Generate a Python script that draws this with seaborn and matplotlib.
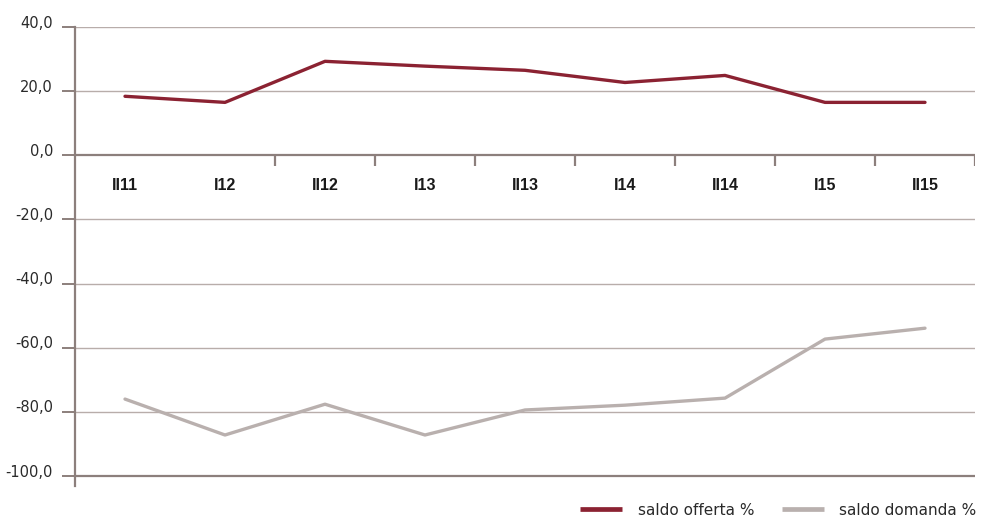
import matplotlib
matplotlib.use("Agg")
import matplotlib.pyplot as plt
from matplotlib.lines import Line2D
from matplotlib.transforms import ScaledTranslation
import seaborn as sns
import pandas as pd

periods = ["II11", "I12", "II12", "I13", "II13", "I14", "II14", "I15", "II15"]
saldo_offerta = [18.4, 16.5, 29.3, 27.8, 26.5, 22.7, 24.9, 16.5, 16.5]
saldo_domanda = [-76.0, -87.2, -77.6, -87.2, -79.4, -77.9, -75.7, -57.3, -53.9]
y_ticks = [40, 20, 0, -20, -40, -60, -80, -100]

series_names = ["saldo offerta %", "saldo domanda %"]
colors = {"saldo offerta %": "#8b2232", "saldo domanda %": "#b9b0ae"}
axis_color = "#8c7f7c"
grid_color = "#b8adaa"

df = pd.DataFrame({
    "pos": list(range(len(periods))) * 2,
    "valore": saldo_offerta + saldo_domanda,
    "serie": [series_names[0]] * len(periods) + [series_names[1]] * len(periods),
})

sns.set_style("white")
plt.rcParams["font.family"] = ["DejaVu Sans"]

fig = plt.figure(figsize=(9.82, 5.16), dpi=100)
ax = fig.add_axes([75 / 982, 1 - 486 / 516, 900 / 982, 459 / 516])

ax.set_xlim(-0.5, len(periods) - 0.5)
ax.set_ylim(-103.1, 40)

# horizontal gridlines
for t in y_ticks:
    if t in (0, -100):
        ax.axhline(t, color=axis_color, lw=1.6, zorder=1)
    else:
        ax.axhline(t, color=grid_color, lw=1.0, zorder=1)

# category boundary ticks hanging under the zero line
boundaries = [i + 0.5 for i in range(1, len(periods))]
ax.vlines(boundaries, -3.2, 0, color=axis_color, lw=1.6, zorder=1)

sns.lineplot(data=df, x="pos", y="valore", hue="serie", palette=colors,
             linewidth=2.4, legend=False, ax=ax, zorder=3)

# category labels below the zero line
for i, p in enumerate(periods):
    ax.text(i, -9.5, p, ha="center", va="center", fontsize=11.5,
            fontweight="bold", family=["Liberation Sans", "DejaVu Sans"],
            color="#1a1a1a")

ax.set_xticks([])
ax.set_yticks(y_ticks)
ax.set_yticklabels([f"{t:.1f}".replace(".", ",") for t in y_ticks],
                   fontsize=10.5, color="#2a2a2a")
ax.tick_params(axis="y", left=True, direction="out", length=9.4, width=1.4,
               color=axis_color, pad=6.5)
lift = ScaledTranslation(0, 4 / 100, fig.dpi_scale_trans)
for lbl in ax.get_yticklabels():
    lbl.set_verticalalignment("center")
    lbl.set_transform(lbl.get_transform() + lift)
ax.set_xlabel("")
ax.set_ylabel("")

for s in ["top", "right", "bottom"]:
    ax.spines[s].set_visible(False)
ax.spines["left"].set_color(axis_color)
ax.spines["left"].set_linewidth(1.6)

handles = [Line2D([0], [0], color=colors[n], lw=3.4, solid_capstyle="butt")
           for n in series_names]
fig.legend(handles, series_names, loc="lower right", bbox_to_anchor=(1.008, -0.03),
           ncol=2, frameon=False, fontsize=11, handlelength=2.75,
           handletextpad=1.0, columnspacing=1.8, labelcolor="#2a2a2a")

fig.savefig("out.png", dpi=100)
